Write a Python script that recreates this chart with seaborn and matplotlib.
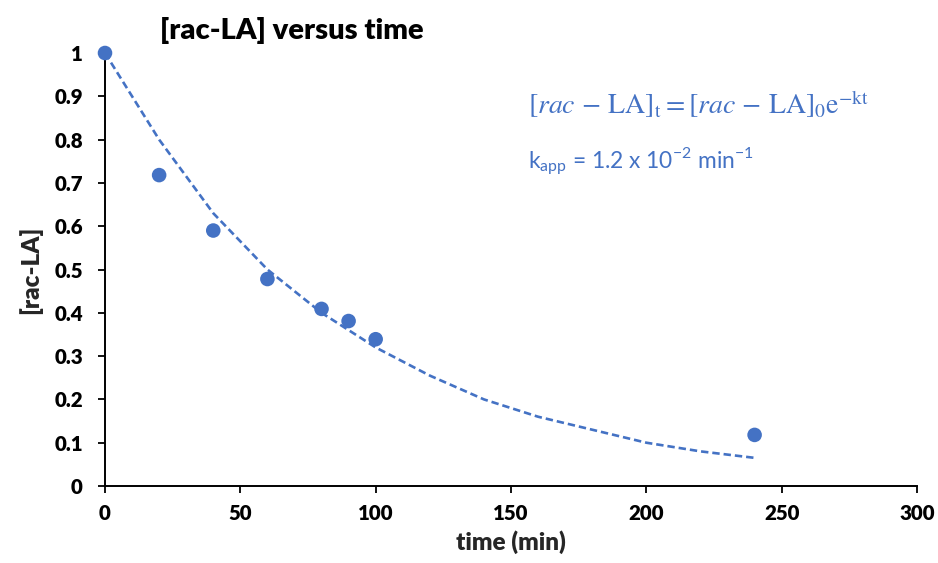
import matplotlib
matplotlib.use("Agg")
import matplotlib.pyplot as plt
import seaborn as sns
import pandas as pd

# ── Data ──────────────────────────────────────────────
time_min = [0, 20, 40, 60, 80, 90, 100, 240]
conc = [1.0, 0.718, 0.590, 0.478, 0.409, 0.381, 0.339, 0.118]

# dashed model curve
fit_time = [0, 20, 40, 60, 80, 100, 120, 140, 160, 180, 200, 220, 240]
fit_conc = [1.0, 0.80, 0.63, 0.50, 0.40, 0.32, 0.255, 0.20, 0.16, 0.13, 0.10, 0.08, 0.065]

x_ticks = [0, 50, 100, 150, 200, 250, 300]
y_ticks = [0, 0.1, 0.2, 0.3, 0.4, 0.5, 0.6, 0.7, 0.8, 0.9, 1]

BLUE = "#4472C4"
FONT = ["Lato", "DejaVu Sans"]

sns.set_style("white")
plt.rcParams["font.family"] = FONT

df = pd.DataFrame({"time": time_min, "conc": conc})
fit = pd.DataFrame({"time": fit_time, "conc": fit_conc})

fig = plt.figure(figsize=(9.38, 5.63), dpi=100)
ax = fig.add_axes([105 / 938, 1 - 486 / 563, (917 - 105) / 938, (486 - 53) / 563])

sns.lineplot(data=fit, x="time", y="conc", ax=ax, color=BLUE,
             linewidth=1.9, linestyle=(0, (2.8, 1.5)))
sns.scatterplot(data=df, x="time", y="conc", ax=ax, color=BLUE,
                s=110, edgecolor="none", clip_on=False, zorder=5)

ax.set_xlim(0, 300)
ax.set_ylim(0, 1)
ax.set_xticks(x_ticks)
ax.set_yticks(y_ticks)
ax.set_xticklabels([str(t) for t in x_ticks])
ax.set_yticklabels([f"{t:g}" for t in y_ticks])

for side in ["top", "right"]:
    ax.spines[side].set_visible(False)
for side in ["left", "bottom"]:
    ax.spines[side].set_color("black")
    ax.spines[side].set_linewidth(1.4)

ax.tick_params(axis="x", direction="out", length=5, width=1.3, pad=8,
               labelsize=14.8, colors="black", bottom=True)
ax.tick_params(axis="y", direction="out", length=5, width=1.3, pad=11,
               labelsize=14.8, colors="black", left=True)
for lab in ax.get_xticklabels() + ax.get_yticklabels():
    lab.set_fontweight("heavy")

ax.set_xlabel("time (min)", fontsize=17.5, fontweight="heavy", labelpad=5)
ax.set_ylabel("[rac-LA]", fontsize=17.5, fontweight="heavy", labelpad=9)

fig.text(160 / 938, 1 - 30 / 563, "[rac-LA] versus time", fontsize=21,
         fontweight="heavy", ha="left", va="center", color="black")

fig.text(528 / 938, 1 - 104 / 563,
         r"$[rac\,-\,\mathrm{LA}]_\mathrm{t} = [rac\,-\,\mathrm{LA}]_0\mathrm{e}^{-\mathrm{kt}}$",
         fontsize=20, color=BLUE, ha="left", va="center", math_fontfamily="stix")
fig.text(528 / 938, 1 - 162 / 563,
         r"k$_\mathregular{app}$ = 1.2 x 10$^\mathregular{-2}$ min$^\mathregular{-1}$",
         fontsize=16.4, color=BLUE, ha="left", va="center")

fig.savefig("out.png", dpi=100)
